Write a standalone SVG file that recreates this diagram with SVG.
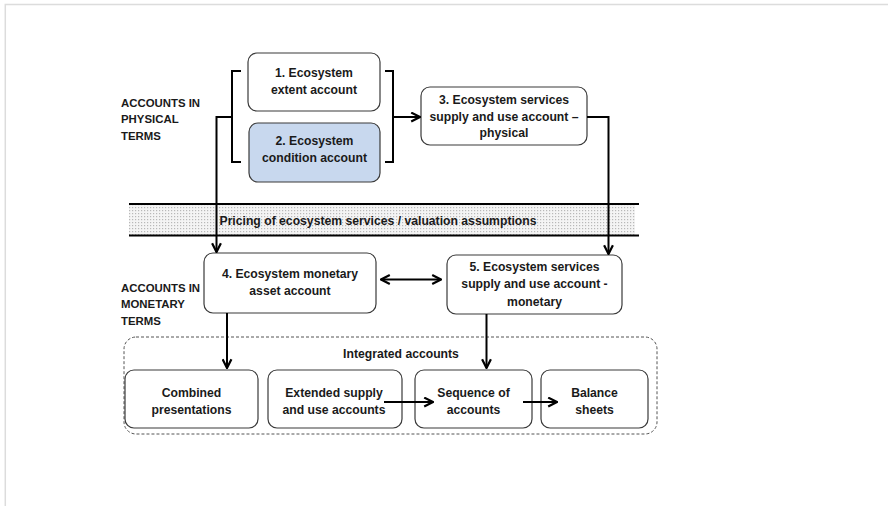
<svg xmlns="http://www.w3.org/2000/svg" width="889" height="506" viewBox="0 0 889 506">
<defs>
<style>
.bg{fill:#ffffff}
.frame{fill:none;stroke:#dcdcdc;stroke-width:1.5}
.box{fill:#ffffff;stroke:#3a3a3a;stroke-width:1.2}
.blue{fill:#c8d8ee}
.t{font-family:"Liberation Sans",Arial,sans-serif;font-weight:bold;font-size:12.2px;fill:#1a1a1a;text-anchor:middle}
.lbl{font-family:"Liberation Sans",Arial,sans-serif;font-weight:bold;font-size:11.4px;fill:#1a1a1a}
.ln{fill:none;stroke:#000000;stroke-width:2}
.band{stroke:#000000;stroke-width:2}
.dash{fill:none;stroke:#555555;stroke-width:1;stroke-dasharray:3 2}
</style>
<pattern id="dots" width="3" height="3" patternUnits="userSpaceOnUse">
<rect width="3" height="3" fill="#f4f4f4"/>
<rect x="0" y="0" width="1.2" height="1.2" fill="#b8b8b8"/>
</pattern>
<marker id="ah" viewBox="0 0 10 10" refX="9" refY="5" markerWidth="5.5" markerHeight="5.5" orient="auto-start-reverse" markerUnits="strokeWidth">
<path d="M1,1 L9,5 L1,9" fill="none" stroke="#000000" stroke-width="2"/>
</marker>
</defs>
<rect class="bg" x="0" y="0" width="889" height="506"/>
<path class="frame" d="M5.3,506 L5.3,4.5 L888,4.5"/>

<g id="band">
<rect x="129" y="205" width="506" height="30" fill="url(#dots)"/>
<line class="band" x1="129" y1="204" x2="639" y2="204"/>
<line class="band" x1="129" y1="235.5" x2="639" y2="235.5"/>
<text class="t" x="378" y="225">Pricing of ecosystem services / valuation assumptions</text>
</g>

<g id="integrated">
<rect class="dash" x="124" y="337" width="533" height="97" rx="12"/>
<text class="t" x="401" y="358">Integrated accounts</text>
</g>

<g id="label-physical">
<text class="lbl" x="121" y="106.5">ACCOUNTS IN</text>
<text class="lbl" x="121" y="123.3">PHYSICAL</text>
<text class="lbl" x="121" y="140">TERMS</text>
</g>
<g id="label-monetary">
<text class="lbl" x="121" y="291.5">ACCOUNTS IN</text>
<text class="lbl" x="121" y="308.3">MONETARY</text>
<text class="lbl" x="121" y="325">TERMS</text>
</g>

<g id="n1">
<rect class="box" x="248" y="53" width="132" height="58" rx="9"/>
<text class="t" x="314" y="77">1. Ecosystem</text>
<text class="t" x="314" y="93.5">extent account</text>
</g>
<g id="n2">
<rect class="box blue" x="249" y="123" width="131" height="59" rx="9"/>
<text class="t" x="314.5" y="144.5">2. Ecosystem</text>
<text class="t" x="314.5" y="161.5">condition account</text>
</g>
<g id="n3">
<rect class="box" x="421" y="87" width="166" height="58" rx="9"/>
<text class="t" x="504" y="103.5">3. Ecosystem services</text>
<text class="t" x="504" y="120.5">supply and use account –</text>
<text class="t" x="504" y="137">physical</text>
</g>
<g id="n4">
<rect class="box" x="204" y="253" width="172" height="60" rx="9"/>
<text class="t" x="290" y="278">4. Ecosystem monetary</text>
<text class="t" x="290" y="295">asset account</text>
</g>
<g id="n5">
<rect class="box" x="447" y="255" width="175" height="59" rx="9"/>
<text class="t" x="534.5" y="270.5">5. Ecosystem services</text>
<text class="t" x="534.5" y="288">supply and use account -</text>
<text class="t" x="534.5" y="305.5">monetary</text>
</g>
<g id="n6">
<rect class="box" x="125" y="370" width="133" height="58" rx="9"/>
<text class="t" x="191.5" y="397">Combined</text>
<text class="t" x="191.5" y="414">presentations</text>
</g>
<g id="n7">
<rect class="box" x="268" y="370" width="134" height="58" rx="9"/>
<text class="t" x="334" y="397">Extended supply</text>
<text class="t" x="334" y="414">and use accounts</text>
</g>
<g id="n8">
<rect class="box" x="415" y="370" width="117" height="58" rx="9"/>
<text class="t" x="473.5" y="397">Sequence of</text>
<text class="t" x="473.5" y="414">accounts</text>
</g>
<g id="n9">
<rect class="box" x="541" y="370" width="107" height="58" rx="9"/>
<text class="t" x="594.5" y="397">Balance</text>
<text class="t" x="594.5" y="414">sheets</text>
</g>

<g id="connectors">
<path class="ln" d="M241,71 L232,71 L232,162 L241,162"/>
<path class="ln" d="M385,71 L393,71 L393,162 L385,162"/>
<path class="ln" d="M232,117 L216.5,117 L216.5,252" marker-end="url(#ah)"/>
<path class="ln" d="M393,117 L420,117" marker-end="url(#ah)"/>
<path class="ln" d="M587,117 L608.5,117 L608.5,254" marker-end="url(#ah)"/>
<path class="ln" d="M381,279.5 L441,279.5" marker-start="url(#ah)" marker-end="url(#ah)"/>
<path class="ln" d="M227,313 L227,368" marker-end="url(#ah)"/>
<path class="ln" d="M486.5,314 L486.5,368" marker-end="url(#ah)"/>
<path class="ln" d="M384,402 L433,402" marker-end="url(#ah)"/>
<path class="ln" d="M523,402 L557,402" marker-end="url(#ah)"/>
</g>
</svg>
